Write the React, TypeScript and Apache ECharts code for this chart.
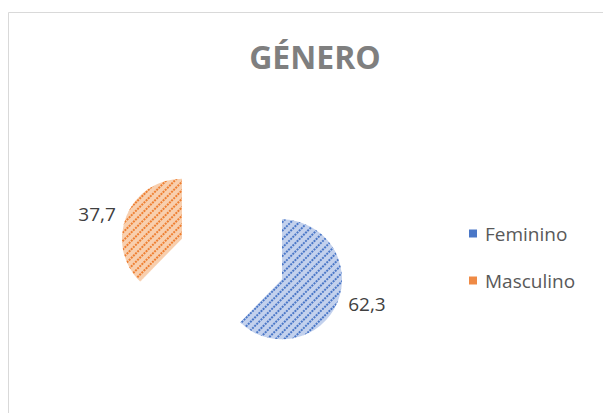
import React, { useEffect, useRef } from "react";
import * as echarts from "echarts";

const categories = ["Feminino", "Masculino"];
const values = [62.3, 37.7];
const titleText = "GÉNERO";

const baseColors = ["#c3d1ed", "#f8cfae"];
const dotColors = ["#4a77c7", "#ee7f32"];
const legendColors = ["#4a77c7", "#ef8a45"];
const labelPads = [
  [4, 0, 0, 0],
  [12, 0, 0, 0],
];

export default function App() {
  const ref = useRef<HTMLDivElement>(null);
  useEffect(() => {
    if (!ref.current) return;
    const chart = echarts.init(ref.current, undefined, { renderer: "svg" });
    const data = categories.map((name, i) => ({
      name,
      value: values[i],
      selected: true,
      label: { padding: labelPads[i] },
      itemStyle: {
        color: baseColors[i],
        decal: {
          symbol: "rect",
          color: dotColors[i],
          dashArrayX: [2, 1],
          dashArrayY: [1.5, 3.5],
          rotation: -Math.PI / 4,
          symbolSize: 1,
        },
      },
    }));
    chart.setOption({
      animation: false,
      backgroundColor: "#ffffff",
      title: {
        text: titleText,
        left: 310,
        textAlign: "center",
        top: 35,
        textStyle: {
          fontFamily: "Open Sans",
          fontWeight: "bold",
          fontSize: 32,
          color: "#7f7f7f",
        },
      },
      legend: {
        orient: "vertical",
        left: 464,
        top: 219,
        itemWidth: 8,
        itemHeight: 8,
        itemGap: 28,
        icon: "rect",
        data: categories.map((name, i) => ({
          name,
          itemStyle: { color: legendColors[i], decal: "none" },
        })),
        textStyle: {
          fontFamily: "Open Sans",
          fontSize: 19,
          color: "#595959",
          padding: [0, 0, 0, 3],
        },
        selectedMode: false,
      },
      graphic: [
        {
          type: "rect",
          shape: { x: 8.5, y: 12.5, width: 600, height: 410 },
          style: { fill: "none", stroke: "#d9d9d9", lineWidth: 1 },
          silent: true,
        },
      ],
      series: [
        {
          type: "pie",
          center: [232, 259],
          radius: 60,
          startAngle: 90,
          clockwise: true,
          selectedMode: "multiple",
          selectedOffset: 54,
          data,
          label: {
            show: true,
            position: "outside",
            formatter: (p: any) => String(p.value).replace(".", ","),
            fontFamily: "Open Sans",
            fontSize: 19,
            color: "#404040",
          },
          labelLine: { show: false, length: 6, length2: 0 },
          emphasis: { disabled: true },
        },
      ],
    });
    return () => chart.dispose();
  }, []);
  return (
    <div
      ref={ref}
      style={{ position: "fixed", left: 0, top: 0, width: 603, height: 413 }}
    />
  );
}
